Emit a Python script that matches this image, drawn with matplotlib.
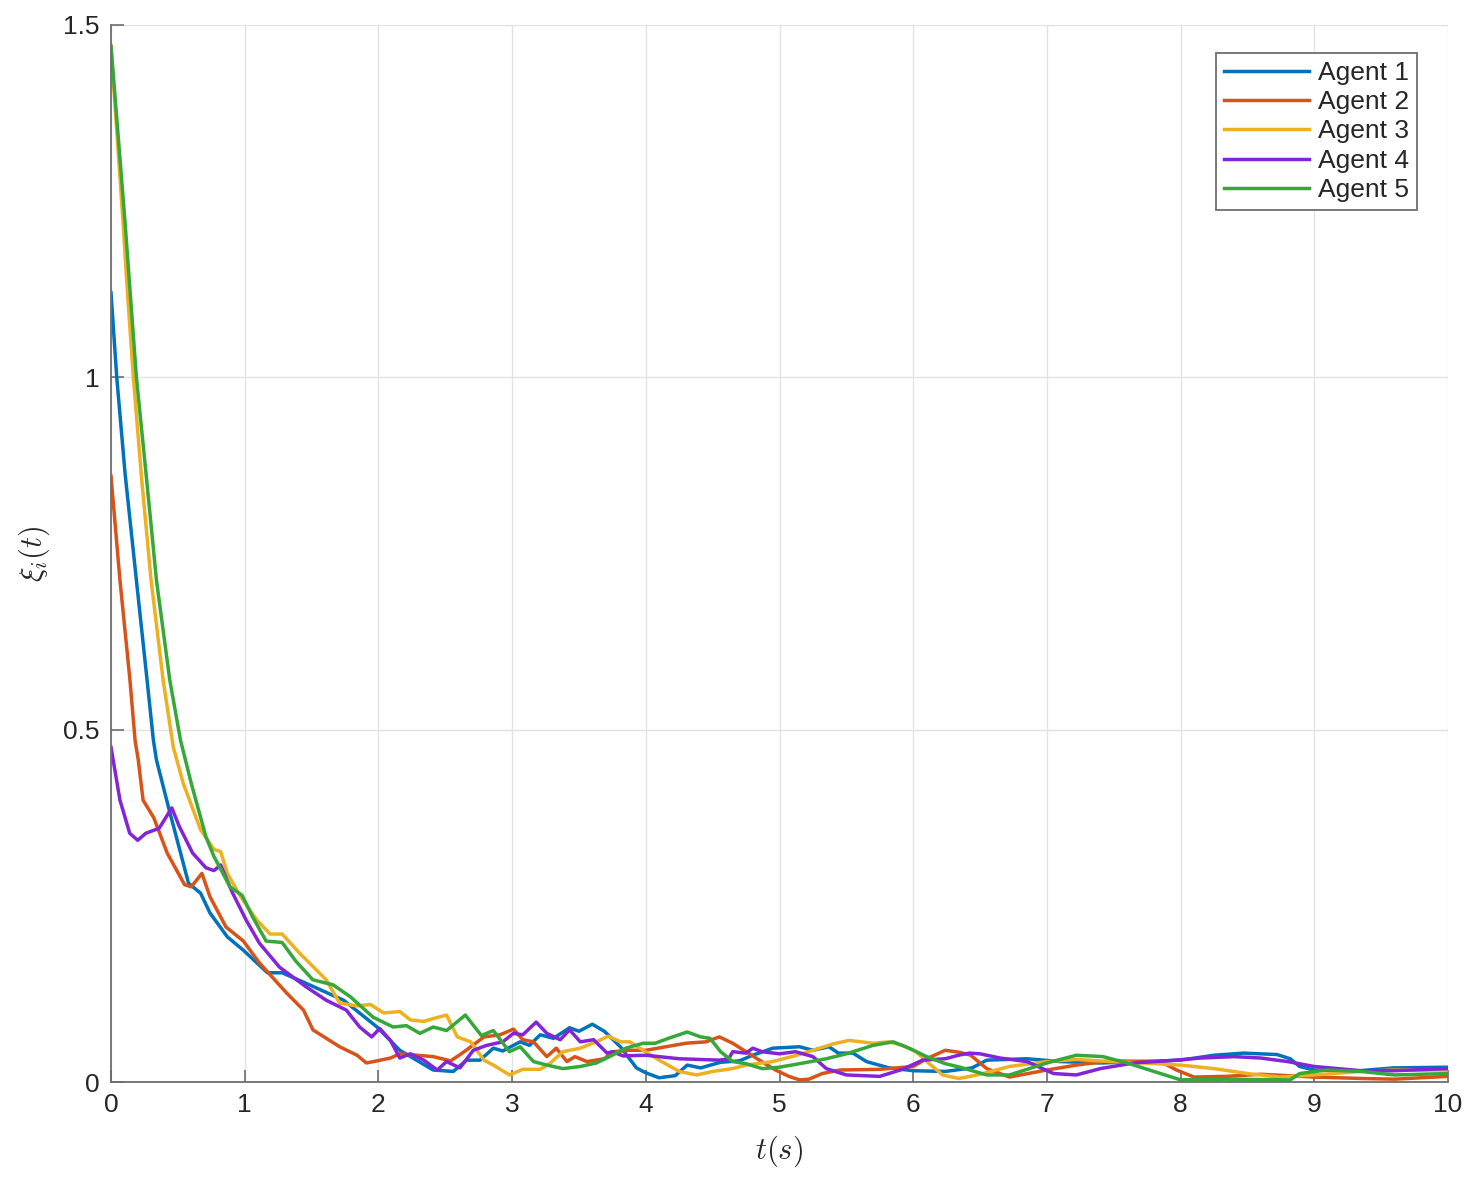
import matplotlib
matplotlib.use("Agg")
import matplotlib.pyplot as plt

# ---- data ----
t1 = [0, 0.043, 0.105, 0.19, 0.27, 0.317, 0.34, 0.43, 0.58, 0.67, 0.74, 0.87, 0.99, 1.17, 1.28, 1.46,
      1.74, 1.99, 2.16, 2.41, 2.56, 2.66, 2.76, 2.86, 2.93, 3.06, 3.13, 3.21, 3.31, 3.43, 3.5, 3.6, 3.69,
      3.81, 3.93, 4.0, 4.1, 4.22, 4.31, 4.41, 4.56, 4.7, 4.8, 4.95, 5.15, 5.25, 5.37, 5.44, 5.55, 5.65,
      5.82, 6.0, 6.24, 6.44, 6.55, 6.85, 7.1, 7.4, 7.72, 8.0, 8.25, 8.47, 8.72, 8.82, 8.89, 9.0, 9.34,
      9.59, 10]
v1 = [1.12, 1.0, 0.864, 0.712, 0.57, 0.485, 0.457, 0.39, 0.282, 0.268, 0.24, 0.206, 0.187, 0.155, 0.155,
      0.14, 0.116, 0.078, 0.045, 0.017, 0.015, 0.031, 0.031, 0.048, 0.044, 0.057, 0.052, 0.067, 0.062,
      0.077, 0.072, 0.082, 0.072, 0.05, 0.02, 0.013, 0.006, 0.009, 0.024, 0.02, 0.028, 0.03, 0.038, 0.048,
      0.05, 0.045, 0.05, 0.041, 0.041, 0.029, 0.02, 0.016, 0.015, 0.02, 0.031, 0.033, 0.029, 0.027,
      0.029, 0.031, 0.038, 0.041, 0.039, 0.033, 0.022, 0.017, 0.016, 0.02, 0.021]

t2 = [0, 0.067, 0.142, 0.18, 0.204, 0.24, 0.32, 0.42, 0.55, 0.6, 0.68, 0.74, 0.86, 0.99, 1.11, 1.31, 1.44,
      1.51, 1.71, 1.84, 1.91, 1.99, 2.09, 2.16, 2.41, 2.54, 2.62, 2.79, 2.91, 3.01, 3.08, 3.16, 3.26, 3.33,
      3.41, 3.47, 3.56, 3.69, 3.75, 3.88, 4.0, 4.15, 4.3, 4.45, 4.55, 4.65, 4.75, 4.85, 4.97, 5.07, 5.15,
      5.22, 5.32, 5.45, 5.75, 6.0, 6.1, 6.24, 6.35, 6.43, 6.55, 6.72, 6.97, 7.22, 7.47, 7.85, 7.97, 8.1,
      8.34, 8.6, 9.0, 9.35, 9.6, 10]
v2 = [0.86, 0.712, 0.57, 0.485, 0.457, 0.40, 0.375, 0.325, 0.28, 0.277, 0.296, 0.263, 0.22, 0.2, 0.169,
      0.127, 0.102, 0.074, 0.05, 0.038, 0.027, 0.03, 0.034, 0.04, 0.036, 0.03, 0.04, 0.064, 0.067, 0.075,
      0.06, 0.057, 0.036, 0.048, 0.029, 0.036, 0.029, 0.033, 0.043, 0.045, 0.045, 0.05, 0.055, 0.057,
      0.064, 0.055, 0.043, 0.031, 0.017, 0.008, 0.003, 0.004, 0.012, 0.017, 0.018, 0.022, 0.033, 0.045,
      0.042, 0.038, 0.019, 0.007, 0.016, 0.024, 0.03, 0.029, 0.017, 0.007, 0.008, 0.011, 0.007, 0.005,
      0.004, 0.008]

t3 = [0, 0.09, 0.117, 0.167, 0.23, 0.30, 0.39, 0.466, 0.54, 0.67, 0.77, 0.82, 0.87, 0.97, 1.09, 1.19, 1.28,
      1.41, 1.61, 1.71, 1.84, 1.94, 2.04, 2.16, 2.24, 2.34, 2.41, 2.51, 2.59, 2.69, 2.79, 2.86, 2.98, 3.08,
      3.21, 3.28, 3.38, 3.51, 3.63, 3.72, 3.81, 3.88, 3.98, 4.1, 4.25, 4.38, 4.5, 4.65, 4.75, 4.95, 5.13,
      5.25, 5.4, 5.52, 5.7, 5.82, 5.92, 6.02, 6.12, 6.22, 6.34, 6.48, 6.72, 7.0, 7.22, 7.47, 7.72, 8.0,
      8.25, 8.5, 8.74, 9.0, 9.35, 9.6, 10]
v3 = [1.47, 1.22, 1.138, 1.0, 0.854, 0.712, 0.57, 0.475, 0.424, 0.358, 0.33, 0.327, 0.296, 0.263, 0.23,
      0.21, 0.21, 0.183, 0.145, 0.112, 0.108, 0.11, 0.098, 0.1, 0.088, 0.086, 0.09, 0.095, 0.064, 0.057,
      0.031, 0.024, 0.01, 0.018, 0.018, 0.026, 0.043, 0.048, 0.057, 0.065, 0.057, 0.057, 0.045, 0.031,
      0.015, 0.01, 0.015, 0.019, 0.024, 0.029, 0.038, 0.045, 0.054, 0.059, 0.055, 0.057, 0.052, 0.043,
      0.026, 0.01, 0.005, 0.01, 0.022, 0.029, 0.032, 0.029, 0.027, 0.024, 0.019, 0.012, 0.007, 0.01,
      0.015, 0.017, 0.017]

t4 = [0, 0.067, 0.14, 0.2, 0.26, 0.36, 0.455, 0.51, 0.61, 0.71, 0.77, 0.82, 0.91, 1.01, 1.11, 1.26, 1.46,
      1.61, 1.76, 1.86, 1.95, 2.01, 2.09, 2.16, 2.24, 2.34, 2.44, 2.51, 2.61, 2.71, 2.81, 2.93, 3.01, 3.08,
      3.18, 3.26, 3.36, 3.43, 3.51, 3.61, 3.71, 3.75, 3.83, 4.0, 4.25, 4.55, 4.62, 4.65, 4.75, 4.8, 4.87,
      5.0, 5.12, 5.25, 5.35, 5.5, 5.75, 5.92, 6.07, 6.24, 6.34, 6.42, 6.5, 6.65, 6.85, 7.05, 7.22, 7.4,
      7.65, 7.9, 8.15, 8.4, 8.6, 8.8, 9.0, 9.35, 9.6, 10]
v4 = [0.475, 0.40, 0.353, 0.343, 0.353, 0.36, 0.389, 0.363, 0.325, 0.304, 0.3, 0.308, 0.268, 0.23, 0.197,
      0.163, 0.135, 0.116, 0.102, 0.078, 0.064, 0.076, 0.059, 0.034, 0.04, 0.031, 0.017, 0.029, 0.02,
      0.045, 0.052, 0.057, 0.069, 0.067, 0.085, 0.069, 0.06, 0.074, 0.057, 0.06, 0.041, 0.043, 0.037,
      0.038, 0.033, 0.031, 0.033, 0.043, 0.041, 0.048, 0.043, 0.04, 0.043, 0.036, 0.019, 0.01, 0.008,
      0.018, 0.031, 0.033, 0.038, 0.041, 0.04, 0.034, 0.029, 0.012, 0.01, 0.019, 0.027, 0.03, 0.034,
      0.036, 0.034, 0.029, 0.022, 0.016, 0.016, 0.019]

t5 = [0, 0.105, 0.19, 0.267, 0.34, 0.44, 0.52, 0.6, 0.71, 0.77, 0.89, 0.98, 1.06, 1.16, 1.28, 1.38, 1.51,
      1.66, 1.79, 1.96, 2.11, 2.21, 2.31, 2.41, 2.51, 2.65, 2.77, 2.86, 2.98, 3.06, 3.16, 3.26, 3.38, 3.51,
      3.63, 3.75, 3.85, 3.98, 4.07, 4.17, 4.31, 4.41, 4.48, 4.56, 4.65, 4.75, 4.87, 5.0, 5.15, 5.35, 5.5,
      5.7, 5.85, 5.97, 6.1, 6.24, 6.35, 6.55, 6.72, 7.0, 7.22, 7.42, 7.6, 7.85, 8.0, 8.34, 8.82, 8.89,
      9.09, 9.35, 9.6, 10]
v5 = [1.47, 1.22, 1.0, 0.854, 0.712, 0.57, 0.485, 0.424, 0.348, 0.32, 0.277, 0.265, 0.234, 0.2, 0.198,
      0.172, 0.145, 0.138, 0.121, 0.092, 0.078, 0.08, 0.069, 0.078, 0.073, 0.095, 0.066, 0.073, 0.043,
      0.05, 0.029, 0.024, 0.019, 0.022, 0.027, 0.038, 0.048, 0.055, 0.055, 0.062, 0.071, 0.064, 0.062,
      0.043, 0.029, 0.026, 0.019, 0.021, 0.026, 0.033, 0.04, 0.052, 0.057, 0.048, 0.036, 0.026, 0.021,
      0.01, 0.01, 0.027, 0.038, 0.036, 0.027, 0.012, 0.003, 0.004, 0.003, 0.012, 0.017, 0.015, 0.01, 0.012]

labels = ["Agent 1", "Agent 2", "Agent 3", "Agent 4", "Agent 5"]
colors = ["#0072BD", "#D95319", "#EDB120", "#8424D8", "#36A83A"]
xticks = [0, 1, 2, 3, 4, 5, 6, 7, 8, 9, 10]
yticks = [0, 0.5, 1, 1.5]
ytick_labels = ["0", "0.5", "1", "1.5"]

# ---- figure ----
plt.rcParams["font.family"] = ["Liberation Sans", "DejaVu Sans"]
plt.rcParams["mathtext.fontset"] = "cm"

fig = plt.figure(figsize=(14.71, 11.77), dpi=100)
ax = fig.add_axes([111 / 1471, 1 - 1082 / 1177, (1448 - 111) / 1471, (1082 - 25) / 1177])

series = [(t1, v1), (t2, v2), (t3, v3), (t4, v4), (t5, v5)]
for (tt, vv), lab, col in zip(series, labels, colors):
    ax.plot(tt, vv, color=col, lw=2.5, label=lab, solid_joinstyle="round")

ax.set_xlim(0, 10)
ax.set_ylim(0, 1.5)
ax.set_xticks(xticks)
ax.set_xticklabels([str(x) for x in xticks])
ax.set_yticks(yticks)
ax.set_yticklabels(ytick_labels)
ax.grid(True, color="#e3e3e3", lw=1.0)
ax.set_axisbelow(True)

for s in ["top", "right"]:
    ax.spines[s].set_visible(False)
for s in ["left", "bottom"]:
    ax.spines[s].set_color("#6e6e6e")
    ax.spines[s].set_linewidth(1.3)

ax.tick_params(direction="in", length=9, width=1.2, color="#6e6e6e",
               labelsize=19, labelcolor="#262626", pad=8)

ax.set_xlabel(r"$t(s)$", fontsize=22, color="#262626", labelpad=12)
ax.set_ylabel(r"$\xi_i(t)$", fontsize=22, color="#262626", labelpad=8)

leg = ax.legend(loc="upper right", bbox_to_anchor=(1417 / 1471, 1 - 53 / 1177),
                bbox_transform=fig.transFigure, borderaxespad=0,
                fontsize=19, handlelength=3.2, handletextpad=0.35,
                labelspacing=0.2, borderpad=0.3, fancybox=False, framealpha=1)
leg.get_frame().set_edgecolor("#6e6e6e")
leg.get_frame().set_linewidth(1.3)
for txt in leg.get_texts():
    txt.set_color("#262626")

fig.savefig("out.png", dpi=100, facecolor="white")
